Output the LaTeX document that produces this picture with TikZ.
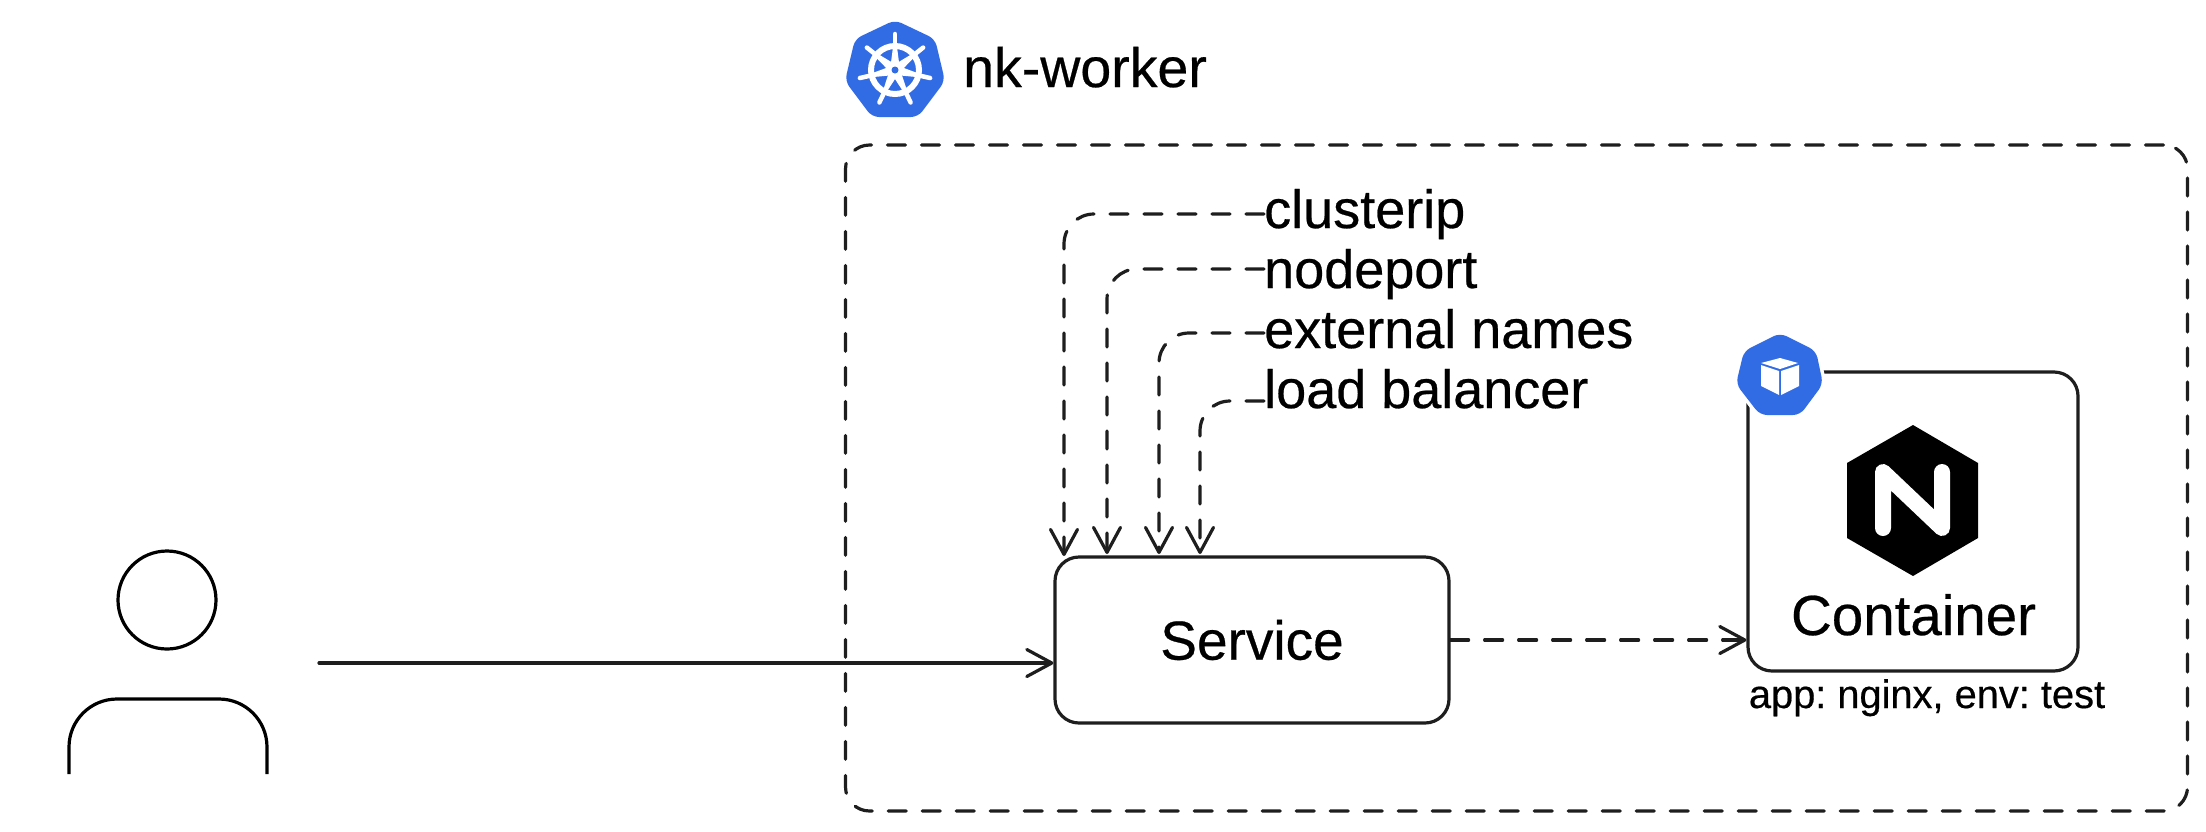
\documentclass[tikz,border=0pt]{standalone}
\usepackage{fontspec}
\setmainfont[FakeBold=0.45]{Liberation Sans}
\usetikzlibrary{arrows.meta,calc}
\definecolor{ink}{HTML}{1E1E1E}
\definecolor{k8s}{HTML}{326CE5}
\tikzset{
  line/.style={draw=ink,line width=3.2pt,line cap=round,line join=round},
  dashline/.style={line,dash pattern=on 18pt off 16pt},
  barb/.style={-{Straight Barb[length=25pt,width=27pt,line width=3.2pt,round]}},
  box/.style={draw=ink,line width=3.2pt,rounded corners=24pt,inner sep=0pt,fill=white},
  lbl/.style={anchor=base west,inner sep=0pt,text depth=0pt,font=\fontsize{54}{60}\selectfont,text=black},
  title/.style={inner sep=0pt,font=\fontsize{55.5}{60}\selectfont,text=black},
  hept/.style={fill=k8s,rounded corners=7pt},
}
\begin{document}
\frenchspacing
\begin{tikzpicture}[x=1pt,y=-1pt]
\useasboundingbox (0,0) rectangle (2206,831);
\fill[white] (0,0) rectangle (2206,831);

% outer frame
\node[dashline,rounded corners=24pt,minimum width=1342pt,minimum height=666pt,inner sep=0pt] (frame) at (1516.5,478) {};

% title + wheel icon
\node[title,anchor=base west] (nk) at (963,87) {nk-worker};
\fill[hept] (895,20) -- (935,39) -- (945,81) -- (918,117) -- (872,117) -- (845,81) -- (855,39) -- cycle;
\draw[white,line width=6pt] (895,70) circle (24pt);
\foreach \a in {90,38.57,-12.86,-64.29,-115.71,-167.14,141.43}{
  \draw[white,line width=4.5pt,line cap=round] ({895+22*cos(\a)},{70-22*sin(\a)}) -- ({895+36*cos(\a)},{70-36*sin(\a)});
  \fill[white] ({895+5*cos(\a+90)},{70-5*sin(\a+90)}) -- ({895+23*cos(\a)+2*cos(\a+90)},{70-23*sin(\a)-2*sin(\a+90)}) -- ({895+23*cos(\a)-2*cos(\a+90)},{70-23*sin(\a)+2*sin(\a+90)}) -- ({895-5*cos(\a+90)},{70+5*sin(\a+90)}) -- cycle;
}
\fill[white] (895,70) circle (7.5pt);
\fill[k8s] (895,70) circle (3.5pt);

% service
\node[box,minimum width=394pt,minimum height=166pt,font=\fontsize{55}{60}\selectfont,text=black] (svc) at (1252,640) {Service};

% container
\node[box,minimum width=330pt,minimum height=299pt] (ctr) at (1913,521.5) {};
\draw[hept,draw=white,line width=7pt,fill=white] (1780,333) -- (1816,351) -- (1823,384) -- (1800,415) -- (1760,415) -- (1736,384) -- (1744,351) -- cycle;
\fill[hept] (1780,333) -- (1816,351) -- (1823,384) -- (1800,415) -- (1760,415) -- (1736,384) -- (1744,351) -- cycle;
\fill[white] (1780,358) -- (1798,363) -- (1780,369) -- (1761,363) -- cycle;
\fill[white] (1761,365) -- (1779,371) -- (1779,395) -- (1761,386) -- cycle;
\fill[white] (1799,365) -- (1781,371) -- (1781,395) -- (1799,386) -- cycle;
% nginx logo
\fill[black] (1913,425) -- (1978,463) -- (1978,538) -- (1913,576) -- (1847,538) -- (1847,463) -- cycle;
\draw[white,line width=16pt,line cap=round,line join=round] (1883,528) -- (1883,472) -- (1942,528) -- (1942,472);
\node[inner sep=0pt,anchor=base,font=\fontsize{56.5}{60}\selectfont,text=black] (ctrl) at (1913.5,635) {Container};
\node[inner sep=0pt,anchor=base,font=\fontsize{39.8}{44}\selectfont,text=black] (tags) at (1927,708) {app: nginx, env: test};

% service types
\node[lbl,text height=28pt] (a) at (1264,228) {clusterip};
\node[lbl,text height=38pt] (b) at (1264,288) {nodeport};
\node[lbl,text height=30pt] (c) at (1264,348) {external names};
\node[lbl,text height=14pt] (d) at (1264,408) {load balancer};
\coordinate (ta) at (1064,556);
\coordinate (tb) at (1107,554);
\coordinate (tc) at (1159,554);
\coordinate (td) at (1200,554);
\draw[dashline,barb,rounded corners=30pt] (a.west) -| (ta);
\draw[dashline,barb,rounded corners=30pt] (b.west) -| (tb);
\draw[dashline,barb,rounded corners=30pt] (c.west) -| (tc);
\draw[dashline,barb,rounded corners=30pt] (d.west) -| (td);

% person
\draw[line,draw=black] (167,600) circle (49pt);
\draw[line,draw=black,line cap=butt,rounded corners=48pt] (69,774) -- (69,699) -- (267,699) -- (267,774);

% connectors
\coordinate (user) at (319,663);
\draw[line,barb] (user) -- (user -| svc.west);
\draw[dashline,barb] (svc.east) -- (svc.east -| ctr.west);
\end{tikzpicture}
\end{document}
